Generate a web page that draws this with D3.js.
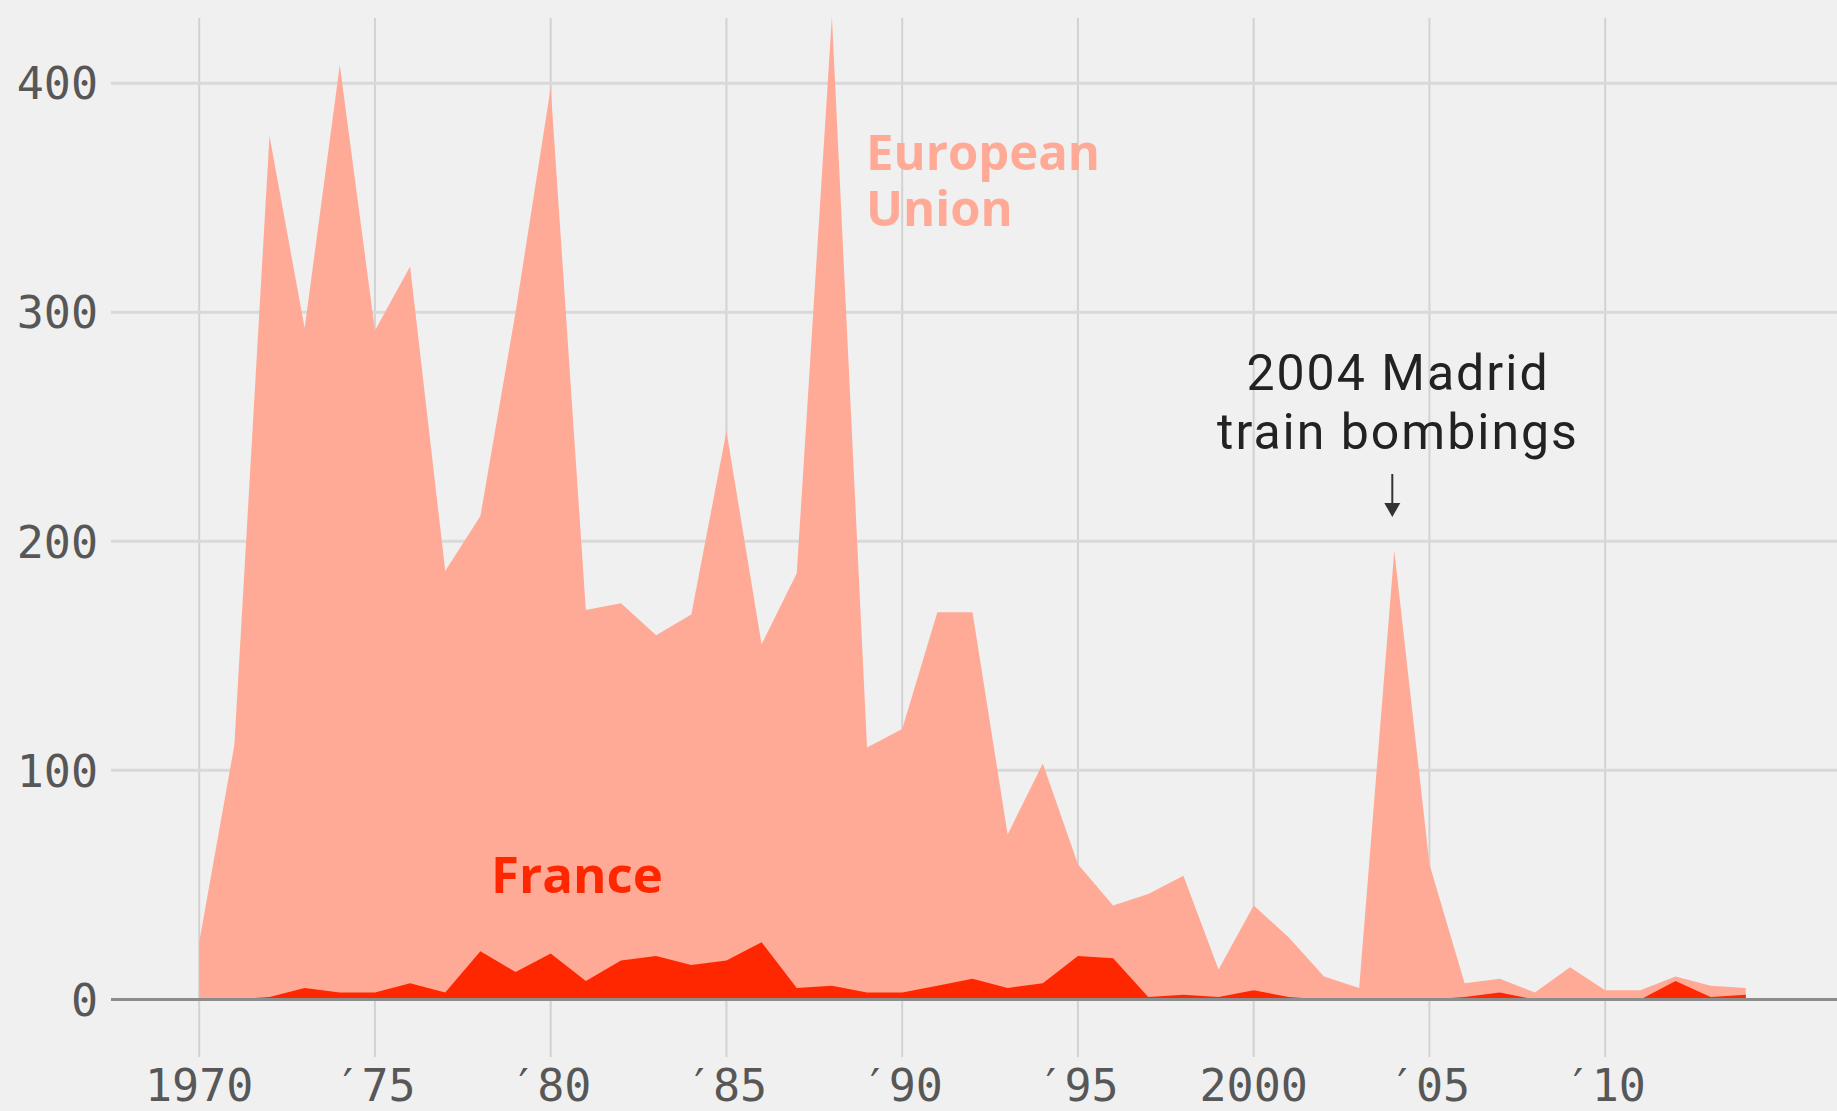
<!DOCTYPE html>
<html>
<head>
<meta charset="utf-8">
<script src="https://d3js.org/d3.v7.min.js"></script>
<style>
    body { margin: 0; background: #f0f0f0; }
    text.tick-label {
        font-family: "DejaVu Sans Mono", monospace;
        font-size: 45px;
        fill: #575757;
    }
    text.series-label {
        font-family: "Open Sans", Roboto, sans-serif;
        font-weight: bold;
    }
    text.note {
        font-family: Roboto, "Noto Sans", sans-serif;
        font-size: 50px;
        letter-spacing: 2px;
        fill: #222222;
    }
</style>
</head>
<body>
<div id="container"></div>
<script>
    // deaths from terrorism per year
    const years = d3.range(1970, 2015);
    const euDeaths = [25, 111, 377, 293, 408, 292, 320, 187, 211, 300,
                      398, 170, 173, 159, 168, 248, 155, 186, 429, 110,
                      118, 169, 169, 72, 103, 59, 41, 46, 54, 13,
                      41, 27, 10, 5, 196, 59, 7, 9, 3, 14,
                      4, 4, 10, 6, 5];
    const franceDeaths = [0, 0, 1, 5, 3, 3, 7, 3, 21, 12,
                          20, 8, 17, 19, 15, 17, 25, 5, 6, 3,
                          3, 6, 9, 5, 7, 19, 18, 1, 2, 1,
                          4, 1, 0, 0, 0, 0, 1, 3, 0, 0,
                          0, 0, 8, 1, 2];
    const yTicks = [0, 100, 200, 300, 400];
    const xTicks = [1970, 1975, 1980, 1985, 1990, 1995, 2000, 2005, 2010];
    const xTickLabels = ["1970", "\u203275", "\u203280", "\u203285", "\u203290", "\u203295", "2000", "\u203205", "\u203210"];

    const W = 1837, H = 1111;

    const svg = d3.select("#container")
        .append("svg")
        .attr("width", W)
        .attr("height", H);

    svg.append("rect").attr("width", W).attr("height", H).attr("fill", "#f0f0f0");

    const x = d3.scaleLinear()
        .domain([1970, 2010])
        .range([199.2, 1605.2]);

    const y = d3.scaleLinear()
        .domain([0, 400])
        .range([999.4, 83.2]);

    // vertical grid
    svg.append("g")
        .selectAll("line")
        .data(xTicks)
        .join("line")
        .attr("x1", d => x(d)).attr("x2", d => x(d))
        .attr("y1", 18).attr("y2", 1057)
        .attr("stroke", "#d2d2d2")
        .attr("stroke-width", 2);

    // horizontal grid
    svg.append("g")
        .selectAll("line")
        .data(yTicks.filter(d => d > 0))
        .join("line")
        .attr("x1", 111).attr("x2", W)
        .attr("y1", d => y(d)).attr("y2", d => y(d))
        .attr("stroke", "#d9d9d9")
        .attr("stroke-width", 3);

    const area = vals => d3.area()
        .x((d, i) => x(years[i]))
        .y0(y(0))
        .y1(d => y(d))(vals);

    svg.append("path")
        .attr("d", area(euDeaths))
        .attr("fill", "#ffaa96");

    svg.append("path")
        .attr("d", area(franceDeaths))
        .attr("fill", "#ff2700");

    // zero line
    svg.append("line")
        .attr("x1", 111).attr("x2", W)
        .attr("y1", y(0)).attr("y2", y(0))
        .attr("stroke", "#8c8c8c")
        .attr("stroke-width", 3);

    // y labels
    svg.append("g")
        .selectAll("text")
        .data(yTicks)
        .join("text")
        .attr("class", "tick-label")
        .attr("x", 98)
        .attr("y", d => y(d))
        .attr("dy", "0.36em")
        .attr("text-anchor", "end")
        .text(d => d);

    // x labels
    svg.append("g")
        .selectAll("text")
        .data(xTicks)
        .join("text")
        .attr("class", "tick-label")
        .attr("x", d => x(d))
        .attr("y", 1101)
        .attr("text-anchor", "middle")
        .text((d, i) => xTickLabels[i]);

    // series labels
    const euLines = ["European", "Union"];
    svg.append("g")
        .selectAll("text")
        .data(euLines)
        .join("text")
        .attr("class", "series-label")
        .attr("x", 866)
        .attr("y", (d, i) => 170 + i * 56)
        .attr("font-size", 49)
        .attr("fill", "#ffaa96")
        .text(d => d);

    svg.append("text")
        .attr("class", "series-label")
        .attr("x", 491)
        .attr("y", 893)
        .attr("font-size", 51)
        .attr("fill", "#ff2700")
        .text("France");

    // annotation
    const noteLines = ["2004 Madrid", "train bombings"];
    svg.append("g")
        .selectAll("text")
        .data(noteLines)
        .join("text")
        .attr("class", "note")
        .attr("x", 1398)
        .attr("y", (d, i) => 390 + i * 59)
        .attr("text-anchor", "middle")
        .text(d => d);

    const ax = x(2004) - 2;
    svg.append("line")
        .attr("x1", ax).attr("x2", ax)
        .attr("y1", 474).attr("y2", 505)
        .attr("stroke", "#333333")
        .attr("stroke-width", 2);
    svg.append("path")
        .attr("d", `M${ax - 8},503 L${ax + 8},503 L${ax},517 Z`)
        .attr("fill", "#333333");
</script>
</body>
</html>
